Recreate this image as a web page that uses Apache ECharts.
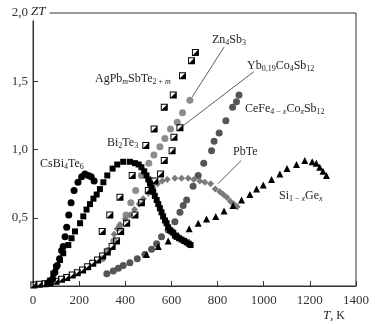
<!DOCTYPE html>
<html lang="ru">
<head>
    <meta charset="utf-8"/>
    <script src="https://cdn.jsdelivr.net/npm/echarts@6/dist/echarts.min.js"></script>
    <style>
        html, body { margin: 0; padding: 0; background: #fff; }
        #main { width: 377px; height: 324px; }
    </style>
</head>
<body>
<div id="main"></div>
<script>
    // точки кривых ZT(T): [T, K ; ZT]
    var csBi4Te6 = [[85,0.05],[95,0.10],[105,0.15],[115,0.20],[124,0.26],[131,0.29],[139,0.36],[146,0.43],
        [155,0.52],[165,0.61],[178,0.70],[195,0.76],[211,0.80],[225,0.82],[240,0.81],[252,0.80],[265,0.77]];
    var bi2Te3 = [[62,0.02],[74,0.04],[88,0.09],[100,0.14],[117,0.19],[131,0.24],[153,0.30],[167,0.35],[182,0.40],
        [204,0.46],[218,0.51],[232,0.56],[247,0.60],[262,0.64],[276,0.67],[290,0.71],[305,0.76],[322,0.81],
        [345,0.86],[365,0.89],[391,0.91],[420,0.91],[442,0.90],[458,0.89],[470,0.87],[482,0.84],[492,0.81],
        [500,0.78],[507,0.75],[514,0.72],[521,0.69],[528,0.66],[536,0.63],[543,0.60],[550,0.57],[557,0.54],
        [564,0.51],[572,0.48],[579,0.46],[586,0.43],[593,0.41],[600,0.40],[608,0.39],[615,0.37],[622,0.36],
        [633,0.35],[644,0.34],[655,0.33],[666,0.32],[675,0.31],[683,0.30]];
    var agPbSbTe = [[300,0.40],[333,0.52],[377,0.65],[430,0.81],[489,1.03],[525,1.15],[569,1.31],[608,1.40],
        [648,1.54],[687,1.65],[704,1.71]];
    var ybCoSb = [[4,0.007],[27,0.012],[52,0.017],[74,0.024],[100,0.034],[124,0.049],[146,0.063],[170,0.08],
        [192,0.097],[215,0.117],[237,0.141],[259,0.166],[280,0.19],[302,0.219],[322,0.25],[343,0.29],[362,0.33],
        [380,0.40],[406,0.46],[442,0.52],[470,0.61],[500,0.70],[528,0.77],[553,0.82],[569,0.92],[603,0.99],
        [611,1.09],[637,1.16]];
    var zn4Sb3 = [[300,0.20],[325,0.26],[350,0.33],[375,0.43],[403,0.52],[424,0.61],[445,0.70],[470,0.81],
        [502,0.90],[524,0.96],[550,1.02],[572,1.08],[596,1.15],[625,1.20],[648,1.27],[680,1.36]];
    var ceFeCoSb = [[320,0.09],[348,0.11],[370,0.13],[391,0.15],[420,0.17],[452,0.20],[485,0.23],[514,0.27],
        [536,0.31],[557,0.36],[586,0.41],[615,0.47],[637,0.54],[651,0.59],[666,0.63],[694,0.73],[716,0.81],
        [740,0.90],[774,0.99],[785,1.06],[807,1.12],[836,1.21],[865,1.31],[882,1.35],[893,1.40]];
    var pbTe = [[352,0.38],[365,0.42],[377,0.45],[400,0.49],[420,0.52],[440,0.56],[460,0.60],[478,0.64],
        [500,0.68],[520,0.72],[540,0.75],[560,0.77],[582,0.78],[615,0.79],[644,0.79],[673,0.79],[697,0.78],
        [723,0.77],[745,0.76],[770,0.75],[790,0.71],[810,0.69],[825,0.67],[840,0.65],[855,0.62],[870,0.60],[885,0.58]];
    var siGe = [[492,0.23],[543,0.29],[586,0.33],[630,0.37],[677,0.42],[716,0.46],[752,0.49],[792,0.51],[828,0.55],
        [867,0.59],[904,0.63],[940,0.67],[969,0.71],[998,0.74],[1034,0.78],[1070,0.82],[1101,0.86],[1142,0.89],
        [1178,0.92],[1210,0.91],[1228,0.90],[1243,0.87],[1257,0.84],[1272,0.81]];

    // выноски к подписям: [начало, конец]
    var znLeader = [[828,1.75],[690,1.385]];
    var ybLeader = [[957,1.57],[636,1.155]];
    var pbLeader = [[903,0.92],[802,0.75]];

    var halfSquare = 'path://M0,0H10V10H0Z M1.4,1.4V8.6H8.6V1.4Z M8.6,1.4L8.6,8.6L1.4,8.6Z';

    function leader(pts) {
        return {
            silent: true,
            symbol: 'none',
            label: {show: false},
            lineStyle: {color: '#333', width: 0.8, type: 'solid'},
            data: [[{coord: pts[0]}, {coord: pts[1]}]]
        };
    }

    function dots(name, data, symbol, size, color, extra) {
        var s = {
            name: name,
            type: 'scatter',
            data: data,
            symbol: symbol,
            symbolSize: size,
            itemStyle: {color: color, opacity: 1},
            silent: true
        };
        if (extra) s.markLine = extra;
        return s;
    }

    var serif = 'Liberation Serif';
    var rich = {
        s: {fontFamily: serif, fontSize: 8, lineHeight: 8, verticalAlign: 'bottom', fill: '#222'},
        si: {fontFamily: serif, fontSize: 8, lineHeight: 8, fontStyle: 'italic', verticalAlign: 'bottom', fill: '#222'},
        i: {fontFamily: serif, fontSize: 13, fontStyle: 'italic', fill: '#222'}
    };

    function note(x, y, text) {
        return {
            type: 'text',
            x: x,
            y: y,
            z: 100,
            style: {
                text: text,
                fill: '#222',
                fontFamily: serif,
                fontSize: 12,
                lineHeight: 14,
                align: 'left',
                verticalAlign: 'middle',
                rich: rich
            }
        };
    }

    var chart = echarts.init(document.getElementById('main'));
    var option = {
        animation: false,
        backgroundColor: '#fff',
        grid: {
            left: 33, right: 21, top: 13, bottom: 38,
            show: true, borderColor: '#333', borderWidth: 1, backgroundColor: 'transparent'
        },
        xAxis: {
            type: 'value',
            min: 0, max: 1400, interval: 200,
            axisLine: {lineStyle: {color: '#333', width: 1}},
            axisTick: {inside: true, length: 5, lineStyle: {color: '#333'}},
            axisLabel: {
                color: '#333', fontFamily: serif, fontSize: 13, margin: 8,
                formatter: function (v) { return String(v); }
            },
            splitLine: {show: false}
        },
        yAxis: {
            type: 'value',
            min: 0, max: 2, interval: 0.5,
            axisLine: {show: true, lineStyle: {color: '#333', width: 1}},
            axisTick: {show: true, inside: true, length: 5, lineStyle: {color: '#333'}},
            axisLabel: {
                color: '#333', fontFamily: serif, fontSize: 13, margin: 5, showMinLabel: false,
                formatter: function (v) { return v.toFixed(1).replace('.', ','); }
            },
            splitLine: {show: false}
        },
        series: [
            dots('CeFe4-xCoxSb12', ceFeCoSb, 'circle', 7, '#555555'),
            dots('Zn4Sb3', zn4Sb3, 'circle', 7, '#8c8c8c', leader(znLeader)),
            dots('PbTe', pbTe, 'diamond', 7, '#7a7a7a', leader(pbLeader)),
            dots('Si1-xGex', siGe, 'triangle', 7, '#000', null),
            dots('Yb0,19Co4Sb12', ybCoSb, halfSquare, 7, '#000', leader(ybLeader)),
            dots('AgPbmSbTe2+m', agPbSbTe, halfSquare, 7, '#000'),
            dots('CsBi4Te6', csBi4Te6, 'circle', 7, '#000'),
            dots('Bi2Te3', bi2Te3, 'rect', 6, '#000')
        ],
        graphic: [
            {
                type: 'text', x: 30, y: 12, z: 100,
                style: {
                    text: 'ZT', fill: '#222', fontFamily: serif, fontSize: 13, fontStyle: 'italic',
                    align: 'left', verticalAlign: 'middle', backgroundColor: '#fff', padding: [2, 4, 2, 1]
                }
            },
            note(40, 164, 'CsBi{s|4}Te{s|6}'),
            note(107, 143, 'Bi{s|2}Te{s|3}'),
            note(95, 79, 'AgPb{si|m}SbTe{s|2 + }{si|m}'),
            note(212, 40, 'Zn{s|4}Sb{s|3}'),
            note(247, 66, 'Yb{s|0,19}Co{s|4}Sb{s|12}'),
            note(245, 109, 'CeFe{s|4 − }{si|x}Co{si|x}Sb{s|12}'),
            note(233, 152, 'PbTe'),
            note(279, 196, 'Si{s|1 − }{si|x}Ge{si|x}'),
            note(323, 316, '{i|T}, K')
        ]
    };
    chart.setOption(option);
</script>
</body>
</html>
